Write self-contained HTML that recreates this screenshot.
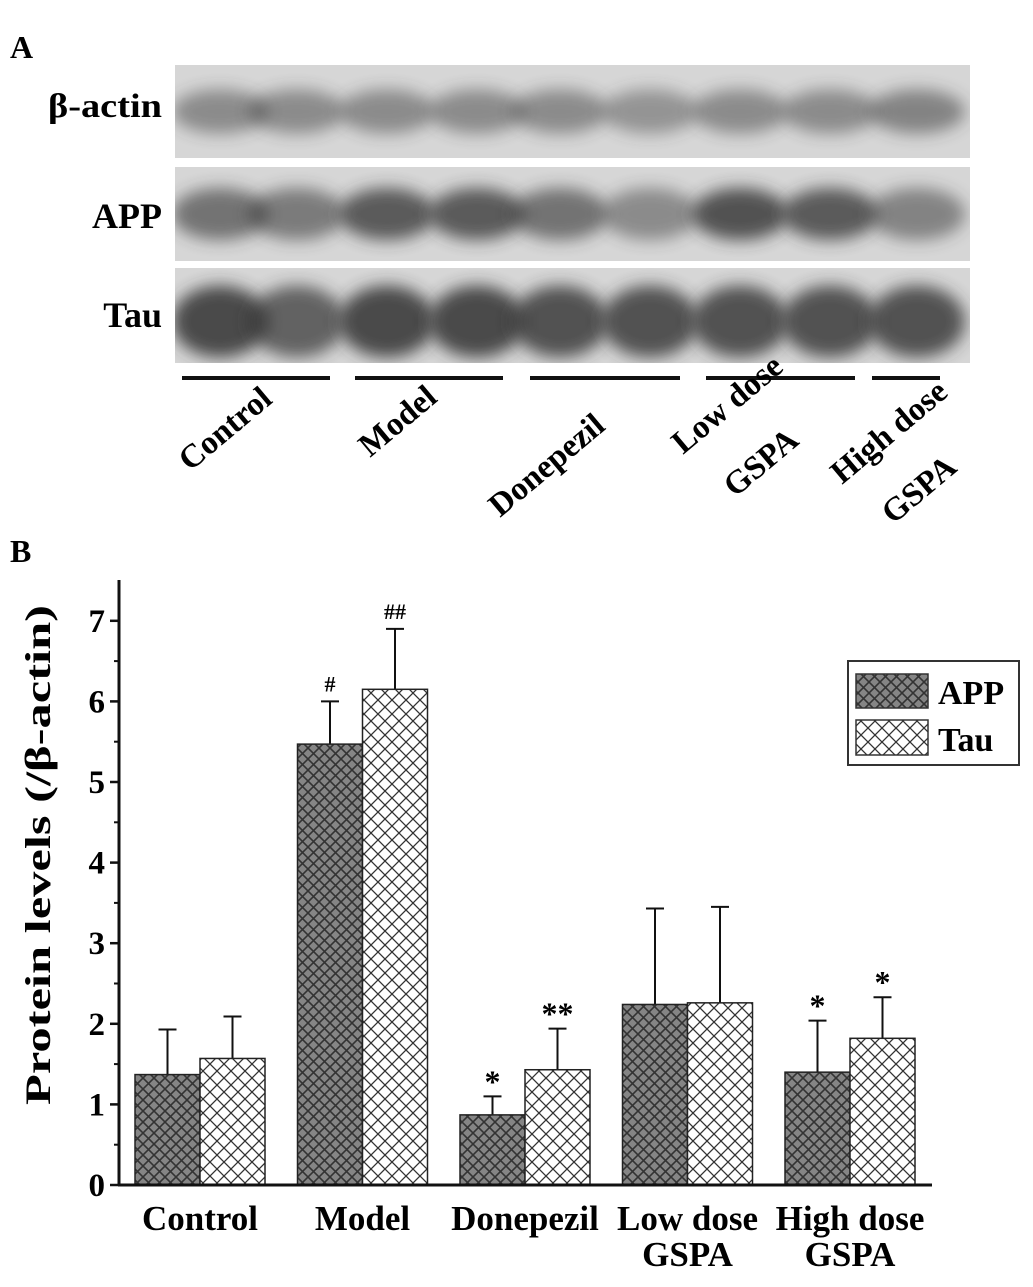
<!DOCTYPE html>
<html><head><meta charset="utf-8"><style>
body{margin:0;background:#fff;width:1033px;height:1282px;overflow:hidden}
svg text{font-family:"Liberation Serif",serif;font-weight:bold}
</style></head><body>
<svg id="s" width="1033" height="1282" xmlns="http://www.w3.org/2000/svg">
<defs>
<pattern id="pApp" width="11" height="11" patternUnits="userSpaceOnUse">
<rect width="11" height="11" fill="#858585"/>
<path d="M0,0L11,11M11,0L0,11" stroke="#333" stroke-width="1.6"/>
</pattern>
<pattern id="pTau" width="14" height="14" patternUnits="userSpaceOnUse">
<rect width="14" height="14" fill="#fff"/>
<path d="M0,0L14,14M14,0L0,14" stroke="#333" stroke-width="1.3"/>
</pattern>
<filter id="blur" x="-50%" y="-50%" width="200%" height="200%"><feGaussianBlur stdDeviation="8"/></filter>
<clipPath id="c1"><rect x="175" y="65" width="795" height="93"/></clipPath>
<clipPath id="c2"><rect x="175" y="167" width="795" height="94"/></clipPath>
<clipPath id="c3"><rect x="175" y="268" width="795" height="95"/></clipPath>
</defs>
<text x="10" y="58" font-size="32">A</text>
<g id="blot"></g>
<text x="162" y="117" font-size="34" text-anchor="end" textLength="114" lengthAdjust="spacingAndGlyphs">β-actin</text>
<text x="162" y="228" font-size="36" text-anchor="end">APP</text>
<text x="162" y="327" font-size="36" text-anchor="end">Tau</text>
<g id="grpLines"></g>
<g font-size="33">
<text transform="translate(190,472) rotate(-40)">Control</text>
<text transform="translate(370,458) rotate(-40)">Model</text>
<text transform="translate(500,518) rotate(-40)">Donepezil</text>
<text transform="translate(683,455) rotate(-40)">Low dose</text>
<text transform="translate(735,498) rotate(-40)">GSPA</text>
<text transform="translate(842,485) rotate(-40)">High dose</text>
<text transform="translate(893,525) rotate(-40)">GSPA</text>
</g>
<text x="10" y="562" font-size="32">B</text>
<g id="chart"></g>
<text transform="translate(50,855) rotate(-90)" font-size="36" text-anchor="middle" textLength="500" lengthAdjust="spacingAndGlyphs">Protein levels (/β-actin)</text>
<g>
<rect x="848" y="661" width="171" height="104" fill="#fff" stroke="#333" stroke-width="2"/>
<rect x="856" y="674" width="72" height="34" fill="url(#pApp)" stroke="#333" stroke-width="1.5"/>
<text x="938" y="704" font-size="34">APP</text>
<rect x="856" y="720" width="72" height="35" fill="url(#pTau)" stroke="#333" stroke-width="1.5"/>
<text x="938" y="751" font-size="34">Tau</text>
</g>
</svg>
<script>
const NS="http://www.w3.org/2000/svg";
const categories=["Control","Model","Donepezil","Low dose|GSPA","High dose|GSPA"];
const appVals=[1.37,5.47,0.87,2.24,1.40];
const appErr=[0.56,0.53,0.23,1.19,0.64];
const tauVals=[1.57,6.15,1.43,2.26,1.82];
const tauErr=[0.52,0.75,0.51,1.19,0.51];
const appMarks=["","#","*","","*"];
const tauMarks=["","##","**","","*"];
const yTicks=[0,1,2,3,4,5,6,7];
function mk(t,a,p){const e=document.createElementNS(NS,t);for(const k in a)e.setAttribute(k,a[k]);(p||document.getElementById('s')).appendChild(e);return e;}
const blot=document.getElementById('blot');
const panels=[[65,93,'c1'],[167,94,'c2'],[268,95,'c3']];
const laneX=[220,297,387,477,560,650,740,830,917];
const intens=[[.45,.45,.45,.45,.45,.4,.45,.45,.5],[.6,.55,.75,.75,.6,.45,.8,.75,.5],[.85,.7,.85,.85,.8,.8,.8,.8,.8]];
const bandH=[22,26,36];
panels.forEach((p,i)=>{
 mk('rect',{x:175,y:p[0],width:795,height:p[1],fill:'#d6d6d6'},blot);
 const g=mk('g',{'clip-path':`url(#${p[2]})`},blot);
 laneX.forEach((x,j)=>{
  const e=mk('ellipse',{cx:x,cy:p[0]+p[1]/2+(i==2?6:0),rx:48,ry:bandH[i],fill:'#333',opacity:intens[i][j],filter:'url(#blur)'},g);
  
  
 });
});
const gl=document.getElementById('grpLines');
[[182,330],[355,503],[530,680],[706,855],[872,940]].forEach(s=>{mk('rect',{x:s[0],y:376,width:s[1]-s[0],height:4,fill:'#111'},gl);});
const ch=document.getElementById('chart');
const x0=119,yb=1185,ppu=80.6;
const Y=v=>yb-v*ppu;
const groupX=i=>135+i*162.5;
const bw=65;
categories.forEach((c,i)=>{
 const gx=groupX(i);
 [[appVals,appErr,appMarks,'url(#pApp)','app'],[tauVals,tauErr,tauMarks,'url(#pTau)','tau']].forEach((s,k)=>{
  const v=s[0][i],x=gx+k*bw,top=Y(v),et=Y(v+s[1][i]);
  mk('line',{x1:x+bw/2,x2:x+bw/2,y1:top,y2:et,stroke:'#111','stroke-width':2},ch);
  mk('line',{x1:x+bw/2-9,x2:x+bw/2+9,y1:et,y2:et,stroke:'#111','stroke-width':2},ch);
  const r=mk('rect',{x:x,y:top,width:bw,height:yb-top,fill:s[3],stroke:'#222','stroke-width':1.5},ch);
  
  
  if(s[2][i]){const t=mk('text',{x:x+bw/2,y:et-(s[2][i][0]=='#'?10:4),'font-size':s[2][i][0]=='#'?22:32,'text-anchor':'middle'},ch);t.textContent=s[2][i];
   
   }
 });
 const parts=c.split('|');
 parts.forEach((p,j)=>{const t=mk('text',{x:gx+bw,y:1230+j*36,'font-size':35,'text-anchor':'middle'},ch);t.textContent=p;
  
  });
});
mk('line',{x1:x0,x2:x0,y1:580,y2:yb+1,stroke:'#111','stroke-width':3},ch);
mk('line',{x1:x0-1,x2:932,y1:yb,y2:yb,stroke:'#111','stroke-width':3},ch);
yTicks.forEach(v=>{
 mk('line',{x1:x0-9,x2:x0,y1:Y(v),y2:Y(v),stroke:'#111','stroke-width':2.5},ch);
 if(v<7)mk('line',{x1:x0-5,x2:x0,y1:Y(v+.5),y2:Y(v+.5),stroke:'#111','stroke-width':2},ch);
 const t=mk('text',{x:x0-14,y:Y(v)+11,'font-size':33,'text-anchor':'end'},ch);t.textContent=v;
 
 
});
</script>
</body></html>
